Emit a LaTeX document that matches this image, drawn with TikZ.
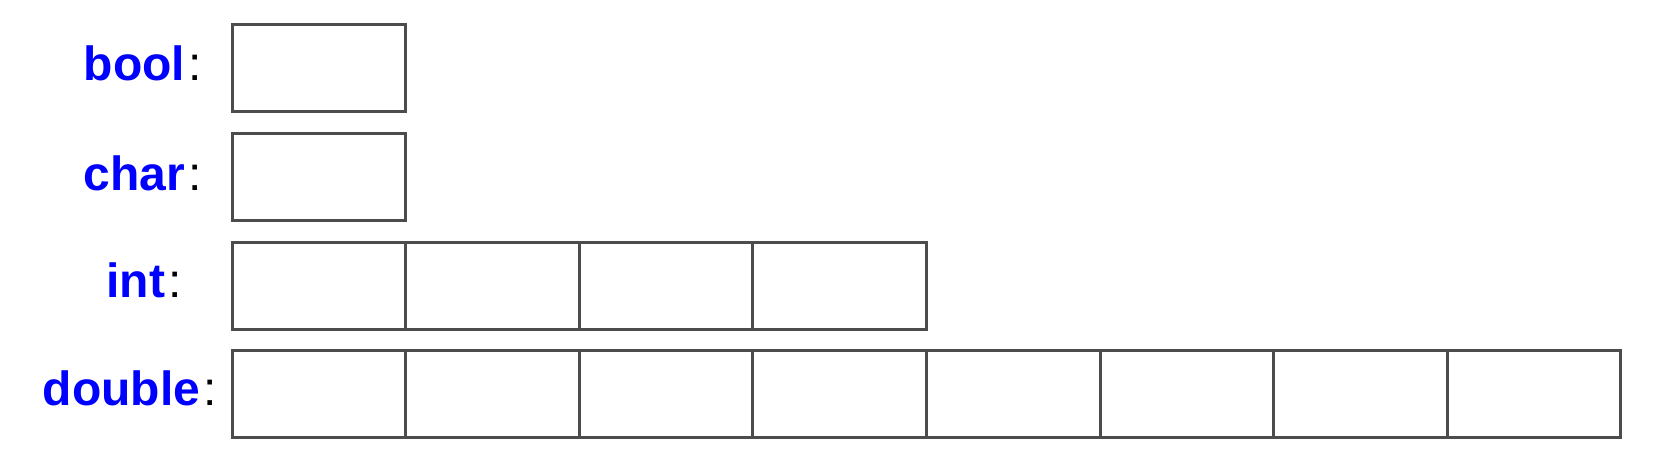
\documentclass[tikz,border=0pt]{standalone}
\usepackage{fontspec}
\setmainfont{Liberation Sans}
\usetikzlibrary{positioning}
\newcommand{\tcolon}{\kern1.5pt\mdseries:}
\begin{document}
\begin{tikzpicture}[x=0.5pt, y=-0.5pt,
            cell/.style = {shape=rectangle, draw=black!70, line width=1.5pt,
                    minimum width=86.8pt, minimum height=43.5pt,
                    outer sep=0pt, inner sep=0pt},
            typename/.style = {anchor=base east, inner sep=0pt,
                    font=\fontsize{24}{28}\selectfont\bfseries}]
        \useasboundingbox (0,0) rectangle (1660,462);
        % one cell per byte
        \node[cell, anchor=north west] (bool1) at (232,24) {};
        \node[cell, anchor=north west] (char1) at (232,133) {};
        \node[cell, anchor=north west] (int1) at (232,242) {};
        \foreach \i [count=\j from 2] in {1,...,3}
            \node[cell, right=0pt of int\i] (int\j) {};
        \node[cell, anchor=north west] (dbl1) at (232,350) {};
        \foreach \i [count=\j from 2] in {1,...,7}
            \node[cell, right=0pt of dbl\i] (dbl\j) {};
        % type names
        \node[typename] (boolname) at (202,80) {\textcolor{blue}{bool}\tcolon};
        \node[typename] (charname) at (202,190) {\textcolor{blue}{char}\tcolon};
        \node[typename] (intname) at (182,297) {\textcolor{blue}{int}\tcolon};
        \node[typename] (dblname) at (217,405) {\textcolor{blue}{double}\tcolon};
    \end{tikzpicture}
\end{document}
